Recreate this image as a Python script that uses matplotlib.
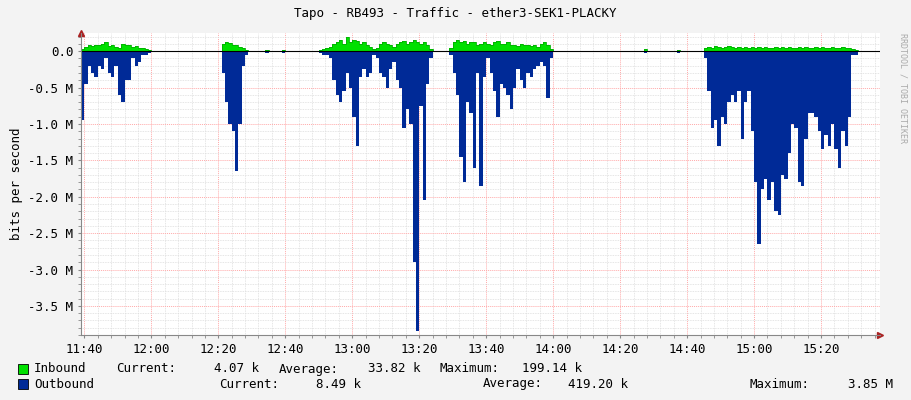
import numpy as np
import matplotlib.pyplot as plt
from matplotlib.ticker import MultipleLocator, FuncFormatter

# minutes since 11:40, one sample per minute; values in Mbit/s
t_start, t_end = -1, 238

# (start minute, outbound values)
out_segments = [
    (-1, [-0.95, -0.45, -0.2, -0.3, -0.35, -0.2, -0.25, -0.1, -0.3, -0.35, -0.2, -0.6, -0.7,
          -0.4, -0.4, -0.1, -0.2, -0.15, -0.05, -0.05, -0.02]),
    (41, [-0.3, -0.7, -1.0, -1.1, -1.65, -1.0, -0.2, -0.05]),
    (54, [-0.02]),
    (59, [-0.03]),
    (70, [-0.02, -0.05, -0.05, -0.1, -0.4, -0.6, -0.7, -0.55, -0.3, -0.5, -0.9, -1.3, -0.35,
          -0.25, -0.35, -0.3, -0.05, -0.1, -0.3, -0.35, -0.5, -0.25, -0.15, -0.4, -0.5, -1.05,
          -0.8, -1.0, -2.9, -3.85, -0.75, -2.05, -0.45, -0.1]),
    (109, [-0.05, -0.3, -0.6, -1.45, -1.8, -0.7, -0.85, -1.6, -0.3, -1.85, -0.35, -0.1, -0.3,
           -0.55, -0.9, -0.45, -0.5, -0.6, -0.8, -0.5, -0.25, -0.4, -0.5, -0.3, -0.35, -0.25,
           -0.2, -0.15, -0.2, -0.65, -0.1]),
    (167, [-0.02]),
    (177, [-0.02]),
    (185, [-0.1, -0.55, -1.05, -0.95, -1.3, -0.9, -1.0, -0.7, -0.6, -0.7, -0.55, -1.2, -0.7,
           -0.55, -1.1, -1.8, -2.65, -1.9, -1.75, -2.05, -1.8, -2.2, -2.25, -1.7, -1.75, -1.4,
           -1.0, -1.05, -1.8, -1.85, -1.2, -0.85, -0.85, -0.9, -1.1, -1.35, -1.15, -1.3, -1.0,
           -1.35, -1.6, -1.1, -1.3, -0.9]),
    (229, [-0.05, -0.05]),
]

in_segments = [
    (-1, [0.03, 0.06, 0.08, 0.07, 0.09, 0.08, 0.1, 0.12, 0.07, 0.08, 0.06, 0.05, 0.1, 0.09,
          0.08, 0.06, 0.07, 0.05, 0.04, 0.03, 0.02]),
    (41, [0.1, 0.13, 0.11, 0.09, 0.08, 0.06, 0.04, 0.02]),
    (54, [0.02]),
    (59, [0.02]),
    (70, [0.02, 0.03, 0.05, 0.06, 0.1, 0.12, 0.15, 0.1, 0.2, 0.12, 0.16, 0.14, 0.1, 0.12, 0.08,
          0.06, 0.03, 0.05, 0.1, 0.12, 0.1, 0.08, 0.06, 0.1, 0.12, 0.14, 0.1, 0.12, 0.15, 0.13,
          0.1, 0.12, 0.08, 0.03]),
    (109, [0.05, 0.12, 0.15, 0.12, 0.14, 0.1, 0.12, 0.13, 0.08, 0.1, 0.12, 0.1, 0.09, 0.12,
           0.14, 0.1, 0.1, 0.12, 0.09, 0.08, 0.07, 0.1, 0.08, 0.09, 0.07, 0.08, 0.06, 0.1, 0.13,
           0.08, 0.03]),
    (167, [0.03]),
    (177, [0.02]),
    (185, [0.05, 0.06, 0.05, 0.07, 0.06, 0.05, 0.06, 0.07, 0.06, 0.05, 0.06, 0.05, 0.06, 0.05,
           0.06, 0.05, 0.06, 0.05, 0.06, 0.05, 0.05, 0.06, 0.05, 0.06, 0.05, 0.06, 0.05, 0.05,
           0.06, 0.05, 0.06, 0.05, 0.05, 0.06, 0.05, 0.06, 0.05, 0.05, 0.06, 0.05, 0.05, 0.06,
           0.05, 0.04]),
    (229, [0.03, 0.02]),
]

time_labels = ["11:40", "12:00", "12:20", "12:40", "13:00", "13:20", "13:40", "14:00",
               "14:20", "14:40", "15:00", "15:20"]

minutes = np.arange(t_start, t_end + 1)
outbound = np.zeros(len(minutes))
inbound = np.zeros(len(minutes))
for start, vals in out_segments:
    i = start - t_start
    outbound[i:i + len(vals)] = vals
for start, vals in in_segments:
    i = start - t_start
    inbound[i:i + len(vals)] = vals

mono = "DejaVu Sans Mono"
fs = 9
fig = plt.figure(figsize=(9.11, 4.0), dpi=100, facecolor="#f3f3f3")
ax = fig.add_axes([81 / 911, 65 / 400, 799 / 911, 302 / 400])
ax.set_facecolor("white")

ax.fill_between(minutes, 0, inbound, step="post", color="#00e000", lw=0)
ax.step(minutes, inbound, where="post", color="#00b000", lw=0.6)
ax.fill_between(minutes, 0, outbound, step="post", color="#002a97", lw=0)
ax.axhline(0, color="black", lw=0.8)

ax.set_xlim(-1, 237.6)
ax.set_ylim(-3.9, 0.25)
ax.xaxis.set_major_locator(MultipleLocator(20))
ax.xaxis.set_minor_locator(MultipleLocator(4))
ax.yaxis.set_major_locator(MultipleLocator(0.5))
ax.yaxis.set_minor_locator(MultipleLocator(0.1))
ax.xaxis.set_major_formatter(FuncFormatter(
    lambda v, p: time_labels[int(round(v / 20))] if 0 <= round(v / 20) < len(time_labels) else ""))
ax.yaxis.set_major_formatter(FuncFormatter(lambda v, p: "0.0" if abs(v) < 1e-9 else "%.1f M" % v))
ax.grid(which="minor", color="#dddddd", ls=(0, (1, 1)), lw=0.6)
ax.grid(which="major", color="#ffaaaa", ls=(0, (1, 1)), lw=0.7)
ax.set_axisbelow(True)
for s in ["top", "right"]:
    ax.spines[s].set_visible(False)
for s in ["left", "bottom"]:
    ax.spines[s].set_color("#888888")
ax.tick_params(which="both", length=2, color="#888888", labelsize=fs)
for lab in ax.get_xticklabels() + ax.get_yticklabels():
    lab.set_family(mono)
ax.set_ylabel("bits per second", family=mono, fontsize=fs)
ax.plot(1, 0, ">", color="#aa2222", ms=4, transform=ax.transAxes, clip_on=False)
ax.plot(0, 1, "^", color="#aa2222", ms=4, transform=ax.transAxes, clip_on=False)

fig.text(0.5, 1 - 14 / 400, "Tapo - RB493 - Traffic - ether3-SEK1-PLACKY", ha="center", va="center",
         family=mono, fontsize=fs)
fig.text(903 / 911, 0.78, "RRDTOOL / TOBI OETIKER", rotation=270, ha="center", va="center",
         family=mono, fontsize=6, color="#aaaaaa")

fig.patches.append(plt.Rectangle((18 / 911, 1 - 374 / 400), 10 / 911, 10 / 400, transform=fig.transFigure,
                                 facecolor="#00e000", edgecolor="black", lw=0.6))
fig.patches.append(plt.Rectangle((18 / 911, 1 - 389 / 400), 10 / 911, 10 / 400, transform=fig.transFigure,
                                 facecolor="#002a97", edgecolor="black", lw=0.6))


def legend_text(x, y, s, ha="left"):
    fig.text(x / 911, 1 - y / 400, s, ha=ha, va="center", family=mono, fontsize=fs)


legend_text(34, 369, "Inbound")
legend_text(116, 369, "Current:")
legend_text(259, 369, "4.07 k", ha="right")
legend_text(279, 369, "Average:")
legend_text(421, 369, "33.82 k", ha="right")
legend_text(440, 369, "Maximum:")
legend_text(582, 369, "199.14 k", ha="right")
legend_text(34, 384, "Outbound")
legend_text(219, 384, "Current:")
legend_text(361, 384, "8.49 k", ha="right")
legend_text(483, 384, "Average:")
legend_text(628, 384, "419.20 k", ha="right")
legend_text(749, 384, "Maximum:")
legend_text(893, 384, "3.85 M", ha="right")

fig.savefig("out.png", dpi=100, facecolor=fig.get_facecolor())
